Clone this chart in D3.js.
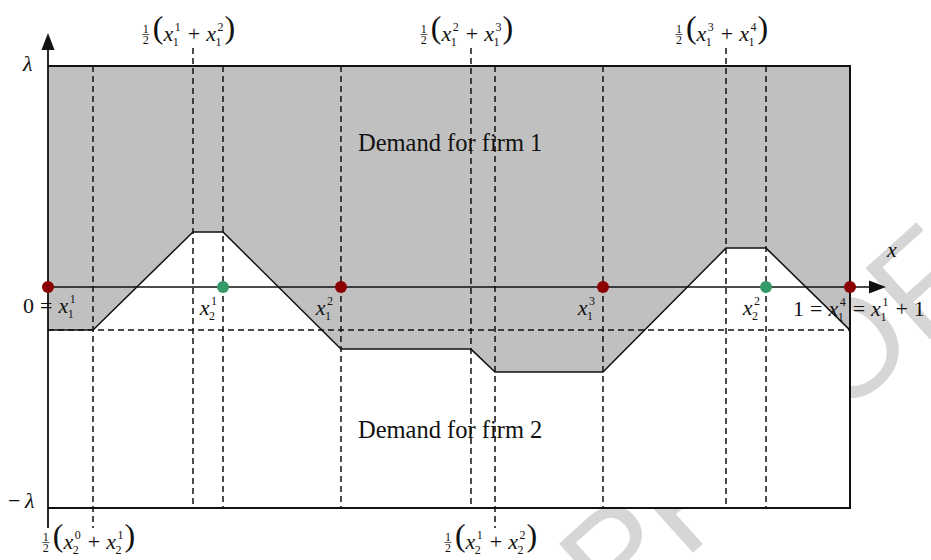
<!DOCTYPE html>
<html>
<head>
<meta charset="utf-8">
<script src="https://cdn.jsdelivr.net/npm/d3@7"></script>
<style>
  body { margin: 0; background: #fff; }
</style>
</head>
<body>
<div id="chart"></div>
<script>
// Positions on the unit circle x in [0, 1], demand levels in units of lambda
const firm1Locations = [0, 0.3653, 0.6920, 1];      // x1^1 .. x1^4 (red)
const firm2Locations = [0.2182, 0.8953];            // x2^1, x2^2 (green)

// boundary between the two demand regions
const boundaryX = [0, 0.0561, 0.1808, 0.2182, 0.3653, 0.5274, 0.5574, 0.6920, 0.8454, 0.8953, 1];
const boundaryY = [-0.195, -0.195, 0.249, 0.249, -0.281, -0.281, -0.385, -0.385, 0.176, 0.176, -0.195];

// dashed guides
const guideX = [0.0561, 0.1808, 0.2182, 0.3653, 0.5274, 0.5574, 0.6920, 0.8454, 0.8953];
const guideTop = [0.1808, 0.5274, 0.8454];   // midpoints of firm 1, labelled above
const guideBottom = [0.0561, 0.5574];        // midpoints of firm 2, labelled below
const guideLevel = -0.195;

const topLabels = ["½ ( x_1^1 + x_1^2 )", "½ ( x_1^2 + x_1^3 )", "½ ( x_1^3 + x_1^4 )"];
const bottomLabels = ["½ ( x_2^0 + x_2^1 )", "½ ( x_2^1 + x_2^2 )"];
const firm1Labels = ["0 = x_1^1", "x_1^2", "x_1^3", "1 = x_1^4 = x_1^1 + 1"];
const firm2Labels = ["x_2^1", "x_2^2"];
const regionLabels = ["Demand for firm 1", "Demand for firm 2"];

const SERIF = "'Liberation Serif', 'Times New Roman', 'DejaVu Serif', serif";

function init() {
  const W = 931, H = 560;
  const svg = d3.select("#chart").append("svg")
    .attr("width", W).attr("height", H)
    .attr("font-family", SERIF);

  const x = d3.scaleLinear().domain([0, 1]).range([48, 850]);
  const y = d3.scaleLinear().domain([-1, 1]).range([508, 66]);

  // faint watermark behind everything
  svg.append("text")
    .attr("transform", "translate(985,290) rotate(-42)")
    .attr("text-anchor", "end")
    .attr("font-family", "'Liberation Sans', Arial, sans-serif")
    .attr("font-size", 140)
    .attr("fill", "#d6d6d6")
    .text("PROOF");

  svg.append("rect")
    .attr("x", x(0)).attr("y", y(1))
    .attr("width", x(1) - x(0)).attr("height", y(-1) - y(1))
    .attr("fill", "#fff");

  const pts = boundaryX.map((d, i) => [d, boundaryY[i]]);

  // firm 1 demand region (grey)
  const area = d3.area()
    .x(d => x(d[0]))
    .y0(y(1))
    .y1(d => y(d[1]));
  svg.append("path").attr("d", area(pts)).attr("fill", "#c0c0c0");

  // dashed guides
  svg.selectAll(".guide")
    .data(guideX)
    .enter()
    .append("line")
    .attr("x1", d => x(d)).attr("x2", d => x(d))
    .attr("y1", d => guideTop.includes(d) ? y(1) - 18 : y(1))
    .attr("y2", d => guideBottom.includes(d) ? y(-1) + 20 : y(-1))
    .attr("stroke", "#111").attr("stroke-width", 1.5)
    .attr("stroke-dasharray", "6,4");

  svg.append("line")
    .attr("x1", x(0)).attr("x2", x(1))
    .attr("y1", y(guideLevel)).attr("y2", y(guideLevel))
    .attr("stroke", "#111").attr("stroke-width", 1.5)
    .attr("stroke-dasharray", "6,4");

  // boundary
  svg.append("path")
    .attr("d", d3.line().x(d => x(d[0])).y(d => y(d[1]))(pts))
    .attr("fill", "none").attr("stroke", "#111").attr("stroke-width", 1.5);

  // frame
  svg.append("path")
    .attr("d", `M${x(0)},${y(1)}H${x(1)}V${y(-1)}H${x(0)}`)
    .attr("fill", "none").attr("stroke", "#111").attr("stroke-width", 2);

  // axes with arrows
  svg.append("line")
    .attr("x1", x(0)).attr("x2", 872)
    .attr("y1", y(0)).attr("y2", y(0))
    .attr("stroke", "#111").attr("stroke-width", 1.6);
  svg.append("path")
    .attr("d", `M886,${y(0)}L869,${y(0) - 6.5}L869,${y(0) + 6.5}Z`)
    .attr("fill", "#111");
  svg.append("line")
    .attr("x1", x(0)).attr("x2", x(0))
    .attr("y1", y(-1) + 20).attr("y2", 48)
    .attr("stroke", "#111").attr("stroke-width", 1.8);
  svg.append("path")
    .attr("d", `M${x(0)},33L${x(0) - 6.5},50L${x(0) + 6.5},50Z`)
    .attr("fill", "#111");

  // locations
  svg.selectAll(".firm1")
    .data(firm1Locations)
    .enter()
    .append("circle")
    .attr("cx", d => x(d)).attr("cy", y(0)).attr("r", 6)
    .attr("fill", "#8b0000");
  svg.selectAll(".firm2")
    .data(firm2Locations)
    .enter()
    .append("circle")
    .attr("cx", d => x(d)).attr("cy", y(0)).attr("r", 6)
    .attr("fill", "#359a68");

  function txt(g, s, tx, ty, size, italic) {
    return g.append("text").attr("x", tx).attr("y", ty)
      .attr("font-family", SERIF)
      .attr("font-size", size)
      .attr("font-style", italic ? "italic" : "normal")
      .attr("fill", "#111")
      .text(s);
  }

  // little math typesetter: tokens separated by spaces
  function mathLabel(src, px, py, anchor) {
    const g = svg.append("g");
    let cx = 0;
    src.split(" ").forEach(tok => {
      if (tok === "½") {
        txt(g, "1", cx + 4, -8.5, 12).attr("text-anchor", "middle");
        txt(g, "2", cx + 4, 2.5, 12).attr("text-anchor", "middle");
        g.append("line").attr("x1", cx + 0.5).attr("x2", cx + 7.5)
          .attr("y1", -6.5).attr("y2", -6.5)
          .attr("stroke", "#111").attr("stroke-width", 0.7);
        cx += 11;
      } else if (tok === "(" || tok === ")") {
        const t = txt(g, tok, cx, -3.5, 32);
        cx += t.node().getComputedTextLength() + (tok === "(" ? 0 : 1);
      } else if (tok === "=" || tok === "+") {
        cx += 6;
        const t = txt(g, tok, cx, 0, 22);
        cx += t.node().getComputedTextLength() + 6;
      } else if (tok.startsWith("x_")) {
        const sub = tok.slice(2, 3), sup = tok.slice(4);
        const t = txt(g, "x", cx, 0, 22, true);
        const w = t.node().getComputedTextLength();
        const s1 = txt(g, sup, cx + w + 1.5, -10, 12);
        const s2 = txt(g, sub, cx + w - 0.5, 5, 12);
        cx += w + Math.max(s1.node().getComputedTextLength() + 1.5,
                           s2.node().getComputedTextLength()) + 1;
      } else {
        const t = txt(g, tok, cx, 0, 22);
        cx += t.node().getComputedTextLength();
      }
    });
    const shift = anchor === "end" ? -cx : anchor === "middle" ? -cx / 2 : 0;
    g.attr("transform", `translate(${px + shift},${py})`);
  }

  topLabels.forEach((s, i) => mathLabel(s, x(guideTop[i]) - 4, 41, "middle"));
  bottomLabels.forEach((s, i) => mathLabel(s, x(guideBottom[i]) - 4, 549, "middle"));

  mathLabel(firm1Labels[0], 23, 313, "start");
  mathLabel(firm1Labels[1], x(firm1Locations[1]) - 7, 315, "end");
  mathLabel(firm1Labels[2], x(firm1Locations[2]) - 7, 315, "end");
  mathLabel(firm1Labels[3], 793, 316, "start");
  firm2Labels.forEach((s, i) => mathLabel(s, x(firm2Locations[i]) - 5, 315, "end"));

  // axis labels
  txt(svg, "λ", 23, 71, 22, true);
  txt(svg, "−", 8, 508, 22);
  txt(svg, "λ", 25, 508, 22, true);
  txt(svg, "x", 887, 257, 22, true);

  // region names
  txt(svg, regionLabels[0], 358, 151, 24.5);
  txt(svg, regionLabels[1], 358, 438, 24.5);
}

window.onload = init;
</script>
</body>
</html>
